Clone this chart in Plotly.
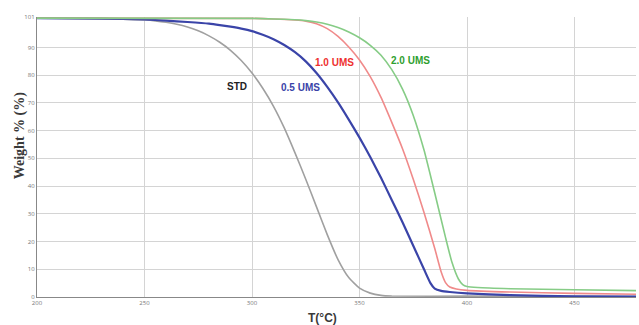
import plotly.graph_objects as go

# Thermogravimetric curves: temperature (°C) vs remaining weight (%)
std_t = [200, 230, 240, 250, 255, 260, 265, 270, 275, 280, 285, 290, 295, 300, 305, 310,
         315, 320, 325, 330, 335, 340, 345, 350, 355, 360, 365, 400, 480]
std_w = [100.6, 100.4, 100.2, 99.9, 99.6, 99.1, 98.4, 97.4, 96.0, 94.2, 91.9, 89.0, 85.3,
         80.8, 75.3, 68.8, 61.0, 52.0, 42.5, 32.5, 22.5, 13.5, 7.0, 3.2, 1.4, 0.6, 0.35,
         0.3, 0.2]

ums05_t = [200, 230, 250, 260, 270, 280, 285, 290, 295, 300, 305, 310, 315, 320, 325, 330,
           335, 340, 345, 350, 355, 360, 365, 370, 375, 380, 383, 385, 388, 392, 400, 420,
           450, 480]
ums05_w = [100.6, 100.4, 100.1, 99.7, 99.2, 98.6, 98.1, 97.5, 96.8, 95.9, 94.6, 93.0, 90.9,
           88.3, 85.0, 80.8, 75.8, 70.2, 64.0, 57.5, 50.5, 43.0, 35.0, 27.0, 18.5, 10.0, 5.0,
           3.0, 2.2, 1.8, 1.3, 0.7, 0.2, 0.1]

ums10_t = [200, 300, 310, 320, 325, 330, 335, 340, 345, 350, 355, 360, 365, 370, 375, 380,
           385, 388, 390, 392, 395, 400, 420, 450, 480]
ums10_w = [100.6, 100.5, 100.3, 99.9, 99.5, 98.6, 96.8, 94.0, 90.2, 85.5, 79.5, 72.0, 63.0,
           53.5, 42.5, 30.5, 17.5, 9.0, 5.2, 3.6, 2.9, 2.4, 1.8, 1.3, 1.0]

ums20_t = [200, 300, 310, 320, 325, 330, 335, 340, 345, 350, 355, 360, 365, 370, 375, 380,
           385, 390, 393, 396, 398, 400, 405, 420, 450, 480]
ums20_w = [100.6, 100.5, 100.3, 100.0, 99.7, 99.2, 98.4, 97.2, 95.6, 93.5, 90.8, 87.2, 82.0,
           75.0, 65.5, 53.0, 37.5, 21.5, 12.5, 6.5, 4.5, 3.8, 3.4, 3.0, 2.6, 2.3]

series = [
    ("STD", std_t, std_w, "#a0a0a0", 1.6),
    ("0.5 UMS", ums05_t, ums05_w, "#3a44a8", 2.2),
    ("1.0 UMS", ums10_t, ums10_w, "#f08a8a", 1.6),
    ("2.0 UMS", ums20_t, ums20_w, "#86cc86", 1.6),
]

# Curve labels placed next to each curve
labels = [
    ("STD", 292.9, 75.9, "#222222"),
    ("0.5 UMS", 322.7, 75.5, "#3a44a8"),
    ("1.0 UMS", 338.5, 84.6, "#ee3030"),
    ("2.0 UMS", 373.8, 85.3, "#2fa02f"),
]

x_ticks = [200, 250, 300, 350, 400, 450]
y_ticks = [0, 10, 20, 30, 40, 50, 60, 70, 80, 90, 101]

fig = go.Figure()
for name, t, w, color, lw in series:
    fig.add_trace(go.Scatter(
        x=t, y=w, mode="lines", name=name,
        line=dict(color=color, width=lw, shape="spline", smoothing=0.5),
        showlegend=False,
    ))

for text, x, y, color in labels:
    fig.add_annotation(x=x, y=y, text=f"<b>{text}</b>", showarrow=False,
                       font=dict(family="Arial, Liberation Sans", size=10, color=color))

# Axis titles
fig.add_annotation(xref="paper", yref="paper", x=-0.028, y=0.575,
                   xanchor="center", yanchor="middle", textangle=-90,
                   text="<b>Weight % (%)</b>", showarrow=False,
                   font=dict(family="Liberation Serif, Times New Roman", size=14,
                             color="#3a3a3a"))
fig.add_annotation(xref="paper", yref="paper", x=0.476, y=-0.075,
                   xanchor="center", yanchor="middle",
                   text="<b>T(°C)</b>", showarrow=False,
                   font=dict(family="Liberation Sans, Arial", size=12, color="#3a3a3a"))

fig.update_layout(
    width=639, height=325,
    margin=dict(l=37, r=3, t=17, b=28),
    paper_bgcolor="white", plot_bgcolor="white",
    showlegend=False,
)
fig.update_xaxes(
    range=[200, 478.6], tickvals=x_ticks,
    showgrid=True, gridcolor="#d4d4d4", gridwidth=1.4,
    showline=True, linecolor="#888888", linewidth=1.4,
    ticks="", tickfont=dict(size=6, color="#777777"),
    zeroline=False,
)
fig.update_yaxes(
    range=[0, 101], tickvals=y_ticks,
    showgrid=True, gridcolor="#d4d4d4", gridwidth=1.4,
    showline=True, linecolor="#888888", linewidth=1.4,
    ticks="", tickfont=dict(size=6, color="#777777"),
    zeroline=False,
)

fig.write_html("out.html")
